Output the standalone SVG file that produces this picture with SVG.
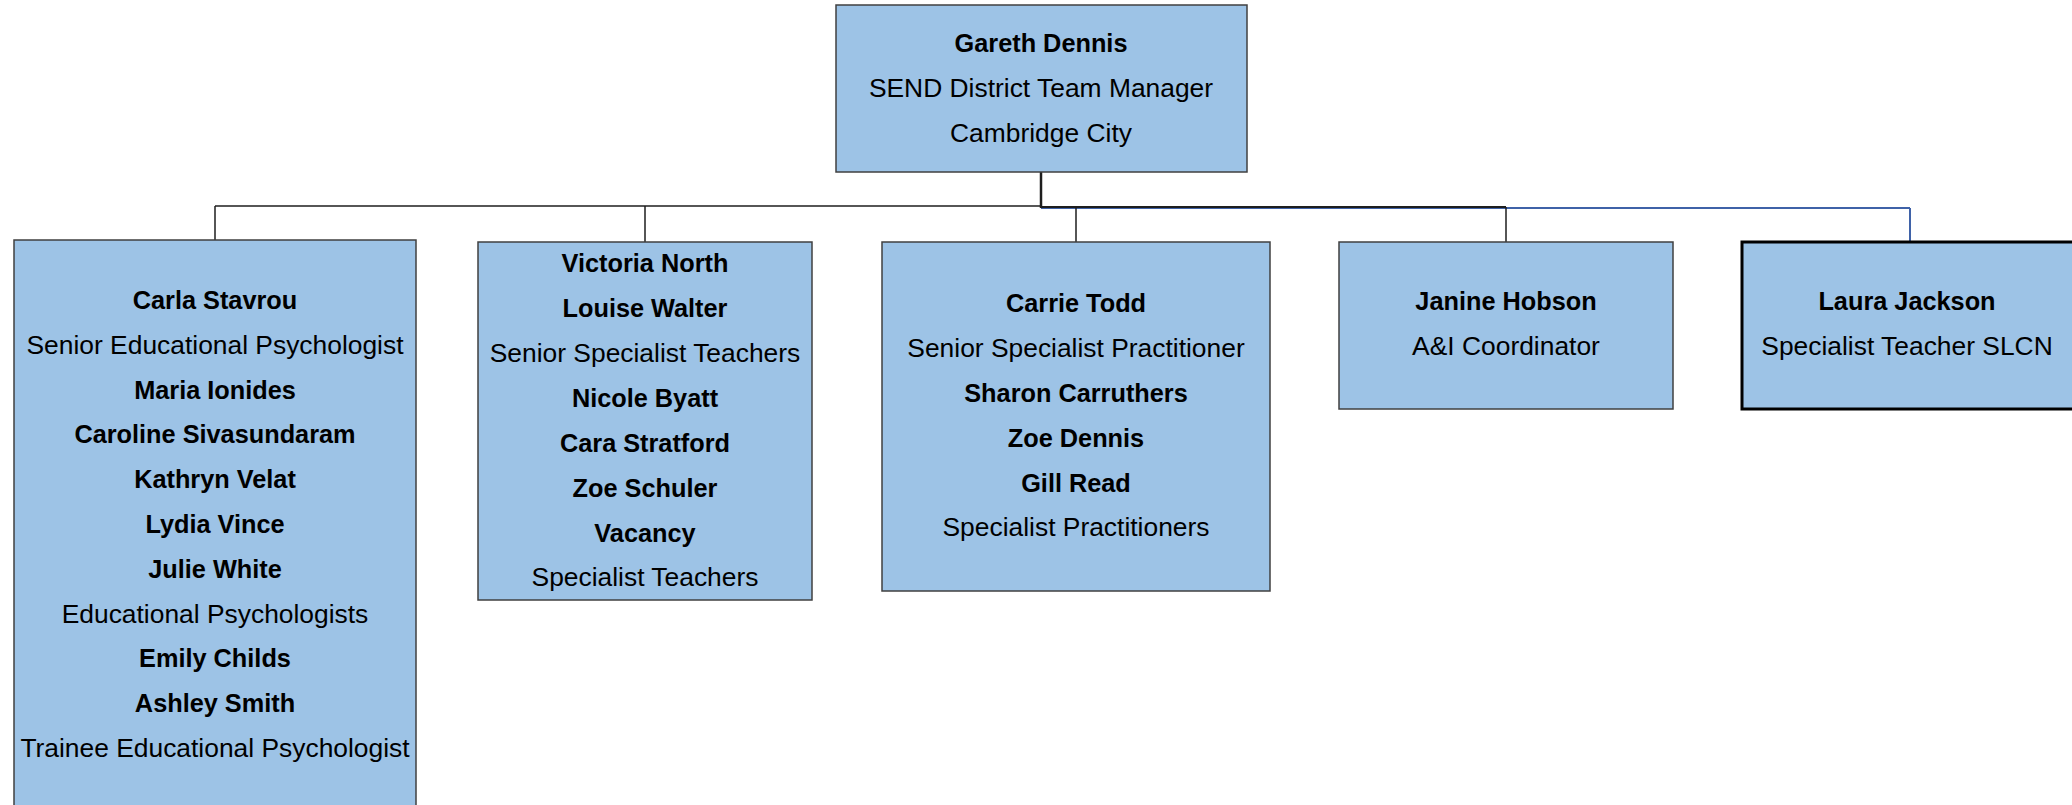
<svg xmlns="http://www.w3.org/2000/svg" width="2072" height="805" viewBox="0 0 2072 805">
<style>
.box{fill:#9DC3E6;stroke:#404040;stroke-width:1.5}
.boxk{fill:#9DC3E6;stroke:#000;stroke-width:3}
text{font-family:"Liberation Sans",Arial,sans-serif;fill:#000;text-anchor:middle}
.b{font-weight:bold;font-size:25.3px}
.r{font-size:26.4px}
.ln{stroke:#1e1e1e;stroke-width:1.5;fill:none}
.bl{stroke:#3F62A8;stroke-width:2;fill:none}
</style>
<rect width="2072" height="805" fill="#fff"/>
<g id="connectors">
<line class="bl" x1="1041" y1="208" x2="1910" y2="208"/>
<line class="bl" x1="1910" y1="208" x2="1910" y2="242"/>
<line class="ln" x1="215" y1="206" x2="1041" y2="206"/>
<line class="ln" x1="1041" y1="207" x2="1506" y2="207" style="stroke-width:2"/>
<line class="ln" x1="1041" y1="172" x2="1041" y2="208" style="stroke-width:2.5"/>
<line class="ln" x1="215" y1="206" x2="215" y2="240"/>
<line class="ln" x1="645" y1="206" x2="645" y2="242"/>
<line class="ln" x1="1076" y1="207" x2="1076" y2="242"/>
<line class="ln" x1="1506" y1="207" x2="1506" y2="242"/>
</g>
<g id="gareth">
<rect class="box" x="836" y="5" width="411" height="167"/>
<text class="b" x="1041" y="52">Gareth Dennis</text>
<text class="r" x="1041" y="97">SEND District Team Manager</text>
<text class="r" x="1041" y="142">Cambridge City</text>
</g>
<g id="psychologists">
<rect class="box" x="14" y="240" width="402" height="590"/>
<text class="b" x="215" y="309">Carla Stavrou</text>
<text class="r" x="215" y="353.8">Senior Educational Psychologist</text>
<text class="b" x="215" y="398.6">Maria Ionides</text>
<text class="b" x="215" y="443.4">Caroline Sivasundaram</text>
<text class="b" x="215" y="488.2">Kathryn Velat</text>
<text class="b" x="215" y="533">Lydia Vince</text>
<text class="b" x="215" y="577.8">Julie White</text>
<text class="r" x="215" y="622.6">Educational Psychologists</text>
<text class="b" x="215" y="667.4">Emily Childs</text>
<text class="b" x="215" y="712.2">Ashley Smith</text>
<text class="r" x="215" y="757">Trainee Educational Psychologist</text>
</g>
<g id="teachers">
<rect class="box" x="478" y="242" width="334" height="358"/>
<text class="b" x="645" y="272">Victoria North</text>
<text class="b" x="645" y="317">Louise Walter</text>
<text class="r" x="645" y="362">Senior Specialist Teachers</text>
<text class="b" x="645" y="407">Nicole Byatt</text>
<text class="b" x="645" y="452">Cara Stratford</text>
<text class="b" x="645" y="497">Zoe Schuler</text>
<text class="b" x="645" y="542">Vacancy</text>
<text class="r" x="645" y="586">Specialist Teachers</text>
</g>
<g id="practitioners">
<rect class="box" x="882" y="242" width="388" height="349"/>
<text class="b" x="1076" y="312">Carrie Todd</text>
<text class="r" x="1076" y="357">Senior Specialist Practitioner</text>
<text class="b" x="1076" y="402">Sharon Carruthers</text>
<text class="b" x="1076" y="447">Zoe Dennis</text>
<text class="b" x="1076" y="492">Gill Read</text>
<text class="r" x="1076" y="536">Specialist Practitioners</text>
</g>
<g id="janine">
<rect class="box" x="1339" y="242" width="334" height="167"/>
<text class="b" x="1506" y="310">Janine Hobson</text>
<text class="r" x="1506" y="355">A&amp;I Coordinator</text>
</g>
<g id="laura">
<rect class="boxk" x="1742" y="242" width="334" height="167"/>
<text class="b" x="1907" y="310">Laura Jackson</text>
<text class="r" x="1907" y="355">Specialist Teacher SLCN</text>
</g>
</svg>
